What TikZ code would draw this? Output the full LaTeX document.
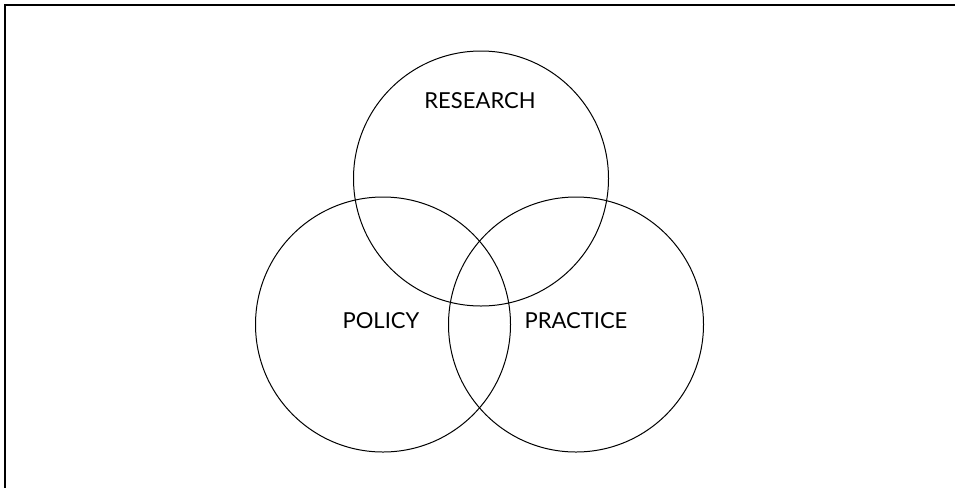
\documentclass[tikz,border=0pt]{standalone}
\usepackage{fontspec}
\setmainfont{Lato}
\begin{document}
\begin{tikzpicture}[x=1pt,y=-1pt,
  venn/.style={draw=black,line width=1pt},
  lbl/.style={font=\fontsize{22}{26}\selectfont,inner sep=0pt,anchor=center},
  frame/.style={draw=black,line width=1.5pt}]
\useasboundingbox (0,0) rectangle (955,488);
\coordinate (tl) at (5,5);
\coordinate (tr) at (955,5);
\coordinate (bl) at (5,488);
\draw[frame] (tr) -- (tl) -- (bl);
\node[venn,circle,minimum size=255pt,inner sep=0pt] (research) at (481,178.5) {};
\node[venn,circle,minimum size=255pt,inner sep=0pt] (policy) at (383,324.5) {};
\node[venn,circle,minimum size=255pt,inner sep=0pt] (practice) at (576,324.5) {};
\node[lbl] (tresearch) at (480,101) {RESEARCH};
\node[lbl] (tpolicy) at (381,321) {POLICY};
\node[lbl] (tpractice) at (576,321) {PRACTICE};
\end{tikzpicture}
\end{document}
